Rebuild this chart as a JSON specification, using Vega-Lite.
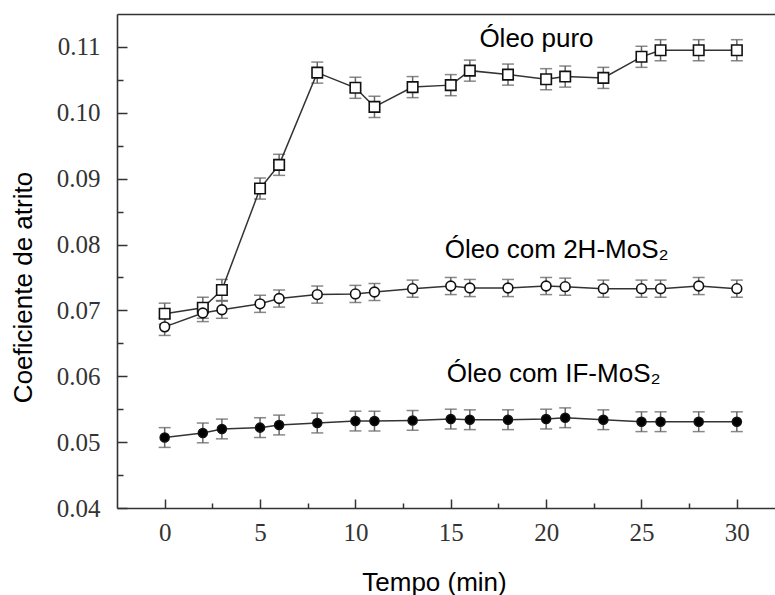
{
  "$schema": "https://vega.github.io/schema/vega-lite/v6.json",
  "width": 658,
  "height": 494,
  "autosize": {"type": "none"},
  "padding": {"left": 117, "top": 14, "right": 0, "bottom": 87},
  "background": "white",
  "config": {
    "view": {"stroke": null},
    "axis": {
      "grid": false,
      "domainColor": "#333",
      "domainWidth": 1.6,
      "tickColor": "#333",
      "tickWidth": 1.5,
      "labelFont": "Liberation Serif",
      "labelFontSize": 25,
      "labelColor": "#333",
      "titleFont": "Liberation Sans",
      "titleFontSize": 26,
      "titleFontWeight": "normal",
      "titleColor": "#000"
    }
  },
  "data": {
    "values": [
      {"t": 0, "serie": "puro", "cof": 0.0695, "err": 0.0016},
      {"t": 2, "serie": "puro", "cof": 0.0704, "err": 0.0016},
      {"t": 3, "serie": "puro", "cof": 0.0731, "err": 0.0016},
      {"t": 5, "serie": "puro", "cof": 0.0885, "err": 0.0016},
      {"t": 6, "serie": "puro", "cof": 0.0921, "err": 0.0016},
      {"t": 8, "serie": "puro", "cof": 0.1061, "err": 0.0016},
      {"t": 10, "serie": "puro", "cof": 0.1038, "err": 0.0016},
      {"t": 11, "serie": "puro", "cof": 0.1009, "err": 0.0016},
      {"t": 13, "serie": "puro", "cof": 0.1039, "err": 0.0016},
      {"t": 15, "serie": "puro", "cof": 0.1042, "err": 0.0016},
      {"t": 16, "serie": "puro", "cof": 0.1064, "err": 0.0016},
      {"t": 18, "serie": "puro", "cof": 0.1058, "err": 0.0016},
      {"t": 20, "serie": "puro", "cof": 0.1051, "err": 0.0016},
      {"t": 21, "serie": "puro", "cof": 0.1055, "err": 0.0016},
      {"t": 23, "serie": "puro", "cof": 0.1053, "err": 0.0016},
      {"t": 25, "serie": "puro", "cof": 0.1085, "err": 0.0016},
      {"t": 26, "serie": "puro", "cof": 0.1095, "err": 0.0016},
      {"t": 28, "serie": "puro", "cof": 0.1095, "err": 0.0016},
      {"t": 30, "serie": "puro", "cof": 0.1095, "err": 0.0016},
      {"t": 0, "serie": "2H", "cof": 0.0675, "err": 0.0013},
      {"t": 2, "serie": "2H", "cof": 0.0696, "err": 0.0013},
      {"t": 3, "serie": "2H", "cof": 0.0701, "err": 0.0013},
      {"t": 5, "serie": "2H", "cof": 0.0710, "err": 0.0013},
      {"t": 6, "serie": "2H", "cof": 0.0718, "err": 0.0013},
      {"t": 8, "serie": "2H", "cof": 0.0724, "err": 0.0013},
      {"t": 10, "serie": "2H", "cof": 0.0725, "err": 0.0013},
      {"t": 11, "serie": "2H", "cof": 0.0728, "err": 0.0013},
      {"t": 13, "serie": "2H", "cof": 0.0733, "err": 0.0013},
      {"t": 15, "serie": "2H", "cof": 0.0737, "err": 0.0013},
      {"t": 16, "serie": "2H", "cof": 0.0734, "err": 0.0013},
      {"t": 18, "serie": "2H", "cof": 0.0734, "err": 0.0013},
      {"t": 20, "serie": "2H", "cof": 0.0737, "err": 0.0013},
      {"t": 21, "serie": "2H", "cof": 0.0736, "err": 0.0013},
      {"t": 23, "serie": "2H", "cof": 0.0733, "err": 0.0013},
      {"t": 25, "serie": "2H", "cof": 0.0733, "err": 0.0013},
      {"t": 26, "serie": "2H", "cof": 0.0733, "err": 0.0013},
      {"t": 28, "serie": "2H", "cof": 0.0737, "err": 0.0013},
      {"t": 30, "serie": "2H", "cof": 0.0733, "err": 0.0013},
      {"t": 0, "serie": "IF", "cof": 0.0507, "err": 0.0015},
      {"t": 2, "serie": "IF", "cof": 0.0514, "err": 0.0015},
      {"t": 3, "serie": "IF", "cof": 0.0520, "err": 0.0015},
      {"t": 5, "serie": "IF", "cof": 0.0522, "err": 0.0015},
      {"t": 6, "serie": "IF", "cof": 0.0526, "err": 0.0015},
      {"t": 8, "serie": "IF", "cof": 0.0529, "err": 0.0015},
      {"t": 10, "serie": "IF", "cof": 0.0532, "err": 0.0015},
      {"t": 11, "serie": "IF", "cof": 0.0532, "err": 0.0015},
      {"t": 13, "serie": "IF", "cof": 0.0533, "err": 0.0015},
      {"t": 15, "serie": "IF", "cof": 0.0535, "err": 0.0015},
      {"t": 16, "serie": "IF", "cof": 0.0534, "err": 0.0015},
      {"t": 18, "serie": "IF", "cof": 0.0534, "err": 0.0015},
      {"t": 20, "serie": "IF", "cof": 0.0535, "err": 0.0015},
      {"t": 21, "serie": "IF", "cof": 0.0537, "err": 0.0015},
      {"t": 23, "serie": "IF", "cof": 0.0534, "err": 0.0015},
      {"t": 25, "serie": "IF", "cof": 0.0531, "err": 0.0015},
      {"t": 26, "serie": "IF", "cof": 0.0531, "err": 0.0015},
      {"t": 28, "serie": "IF", "cof": 0.0531, "err": 0.0015},
      {"t": 30, "serie": "IF", "cof": 0.0531, "err": 0.0015}
    ]
  },
  "resolve": {"axis": {"x": "independent", "y": "independent"}},
  "layer": [
    {
      "mark": {"type": "errorbar", "color": "#666", "thickness": 1.5, "ticks": {"size": 12, "color": "#555"}},
      "encoding": {
        "x": {"field": "t", "type": "quantitative", "scale": {"domain": [-2.5, 32], "nice": false, "zero": false},
          "axis": {"orient": "bottom", "values": [2.5, 7.5, 12.5, 17.5, 22.5, 27.5], "tickSize": -5, "labels": false, "domain": false, "title": null}},
        "y": {"field": "cof", "type": "quantitative", "scale": {"domain": [0.04, 0.115], "nice": false, "zero": false},
          "axis": {"orient": "left", "values": [0.045, 0.055, 0.065, 0.075, 0.085, 0.095, 0.105], "tickSize": -6, "labels": false, "domain": false, "title": null}},
        "yError": {"field": "err"},
        "detail": {"field": "serie"}
      }
    },
    {
      "mark": {"type": "line", "color": "#333", "strokeWidth": 1.5},
      "encoding": {
        "x": {"field": "t", "type": "quantitative", "axis": null},
        "y": {"field": "cof", "type": "quantitative", "axis": null},
        "detail": {"field": "serie"}
      }
    },
    {
      "mark": {"type": "point", "stroke": "#111", "strokeWidth": 1.6, "opacity": 1},
      "encoding": {
        "x": {"field": "t", "type": "quantitative",
          "axis": {"orient": "bottom", "values": [0, 5, 10, 15, 20, 25, 30], "tickSize": -9, "labelPadding": 21, "title": "Tempo (min)", "titleX": 317, "titleY": 82, "titleBaseline": "alphabetic", "titleAlign": "center"}},
        "y": {"field": "cof", "type": "quantitative",
          "axis": {"orient": "left", "values": [0.04, 0.05, 0.06, 0.07, 0.08, 0.09, 0.1, 0.11], "format": ".2f", "tickSize": -10, "labelPadding": 27, "title": "Coeficiente de atrito", "titleAngle": -90, "titleX": -94, "titleY": 273, "titleBaseline": "middle", "titleAlign": "center"}},
        "shape": {"field": "serie", "type": "nominal", "scale": {"domain": ["puro", "2H", "IF"], "range": ["square", "circle", "circle"]}, "legend": null},
        "fill": {"field": "serie", "type": "nominal", "scale": {"domain": ["puro", "2H", "IF"], "range": ["white", "white", "black"]}, "legend": null},
        "size": {"field": "serie", "type": "nominal", "scale": {"domain": ["puro", "2H", "IF"], "range": [110, 80, 130]}, "legend": null}
      }
    },
    {
      "data": {"values": [{"label": "Óleo puro"}]},
      "mark": {"type": "text", "font": "Liberation Sans", "fontSize": 26, "align": "left", "baseline": "alphabetic", "color": "#000"},
      "encoding": {
        "x": {"datum": 16.5, "type": "quantitative", "axis": {"orient": "top", "labels": false, "ticks": false, "domain": true, "title": null}},
        "y": {"datum": 0.11, "type": "quantitative", "axis": null},
        "text": {"field": "label"}
      }
    },
    {
      "data": {"values": [{"label": "Óleo com 2H-MoS₂"}]},
      "mark": {"type": "text", "font": "Liberation Sans", "fontSize": 26, "align": "left", "baseline": "alphabetic", "color": "#000"},
      "encoding": {
        "x": {"datum": 14.68, "type": "quantitative", "axis": null},
        "y": {"datum": 0.078, "type": "quantitative", "axis": null},
        "text": {"field": "label"}
      }
    },
    {
      "data": {"values": [{"label": "Óleo com IF-MoS₂"}]},
      "mark": {"type": "text", "font": "Liberation Sans", "fontSize": 26, "align": "left", "baseline": "alphabetic", "color": "#000"},
      "encoding": {
        "x": {"datum": 14.79, "type": "quantitative", "axis": null},
        "y": {"datum": 0.0592, "type": "quantitative", "axis": null},
        "text": {"field": "label"}
      }
    }
  ]
}
